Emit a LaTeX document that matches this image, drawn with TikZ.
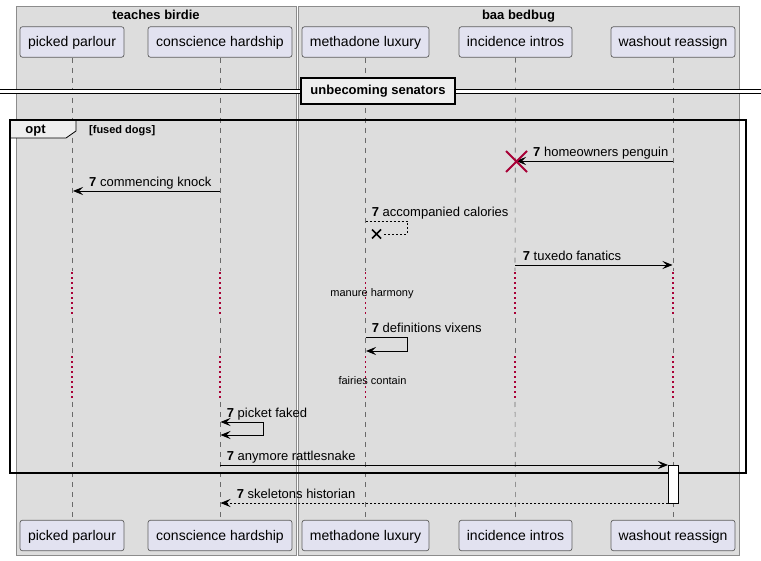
\documentclass[tikz,border=0pt]{standalone}
\usepackage{fontspec}
\setmainfont{Liberation Sans}
\usetikzlibrary{arrows.meta}
\definecolor{grp}{HTML}{DDDDDD}
\definecolor{grpb}{HTML}{8C8C8C}
\definecolor{part}{HTML}{E2E2F0}
\definecolor{partb}{HTML}{5E5E5E}
\definecolor{lifec}{HTML}{6A6A6A}
\definecolor{dred}{HTML}{A80036}
\definecolor{tabf}{HTML}{EEEEEE}
\tikzset{
  groupbox/.style={fill=grp, draw=grpb, line width=0.8pt},
  grouptitle/.style={font=\fontsize{13}{15}\selectfont\bfseries, inner sep=0pt},
  participant/.style={draw=partb, fill=part, rounded corners=2.5pt, line width=0.7pt,
    minimum height=30.5pt, inner sep=0pt, text height=11pt, text depth=1pt,
    font=\fontsize{14}{16}\selectfont},
  life/.style={draw=lifec, line width=0.6pt, dash pattern=on 5pt off 5pt},
  delayline/.style={draw=dred, line width=1.2pt, dash pattern=on 1.2pt off 3.8pt},
  tipstyle/.style={-{Stealth[length=10pt,width=8pt,inset=4pt]}},
  msg/.style={line width=0.9pt, tipstyle},
  dmsg/.style={line width=0.8pt, dash pattern=on 2pt off 2pt, tipstyle},
  dselfx/.style={line width=0.8pt, dash pattern=on 2pt off 2pt},
  bothmsg/.style={line width=0.9pt, {Stealth[length=10pt,width=8pt,inset=4pt]}-{Stealth[length=10pt,width=8pt,inset=4pt]}},
  msglabel/.style={anchor=base west, inner sep=0pt, font=\fontsize{13}{15}\selectfont},
  delaytext/.style={inner sep=0pt, font=\fontsize{11}{13}\selectfont},
  divider/.style={draw=black, fill=tabf, line width=1.5pt, minimum width=154pt, minimum height=26pt,
    inner sep=0pt, text height=10pt, text depth=3pt, font=\fontsize{13}{15}\selectfont\bfseries},
  framelabel/.style={inner sep=0pt, font=\fontsize{13}{15}\selectfont\bfseries},
  condlabel/.style={anchor=base west, inner sep=0pt, font=\fontsize{11}{13}\selectfont\bfseries},
  activation/.style={draw=black, fill=white, line width=0.8pt}
}
\begin{document}
\begin{tikzpicture}[x=1pt,y=-1pt]
\useasboundingbox (0,0) rectangle (761,561);
\fill[white] (0,0) rectangle (761,561);
% groups
\draw[groupbox] (16,6) rectangle (296,555.5);
\draw[groupbox] (298,6) rectangle (739,555.5);
\node[grouptitle, anchor=base] (t1) at (156,19.5) {teaches birdie};
\node[grouptitle, anchor=base] (t2) at (518.5,19.5) {baa bedbug};
% participants
\node[participant, minimum width=104pt] (pp) at (72,42) {picked parlour};
\node[participant, minimum width=144pt] (ch) at (220,42) {conscience hardship};
\node[participant, minimum width=127pt] (ml) at (365.5,42) {methadone luxury};
\node[participant, minimum width=113pt] (ii) at (515.5,42) {incidence intros};
\node[participant, minimum width=124pt] (wr) at (673,42) {washout reassign};
\node[participant, minimum width=104pt] (pp2) at (72,535.5) {picked parlour};
\node[participant, minimum width=144pt] (ch2) at (220,535.5) {conscience hardship};
\node[participant, minimum width=127pt] (ml2) at (365.5,535.5) {methadone luxury};
\node[participant, minimum width=113pt] (ii2) at (515.5,535.5) {incidence intros};
\node[participant, minimum width=124pt] (wr2) at (673,535.5) {washout reassign};
% lifelines with delays
\foreach \n/\x in {pp/72,ch/220,ml/365.5,ii/515,wr/673}{
  \draw[life] (\n.south) -- (\x,271);
  \draw[delayline] (\x,272.5) -- (\x,316);
  \draw[life] (\x,318) -- (\x,355);
  \draw[delayline] (\x,356.5) -- (\x,400);
  \draw[life] (\x,402) -- (\n2.north);
}
% divider
\fill[white] (0,89.5) rectangle (761,93.5);
\draw[line width=0.8pt] (0,89.5) -- (761,89.5) (0,93.5) -- (761,93.5);
\node[divider] (dv) at (378,91) {unbecoming senators};
% opt frame
\path[fill=tabf, draw=black, line width=0.8pt] (10,120) -- (76,120) -- (76,131) -- (66,138) -- (10,138) -- cycle;
\draw[line width=1.5pt] (10,120) rectangle (746,473);
\node[framelabel, anchor=base] (optl) at (35.5,134) {opt};
\node[condlabel] (cond) at (89,134) {[fused dogs]};
% coordinates on lifelines
\coordinate (m1a) at (673,161); \coordinate (m1b) at (516,161);
\coordinate (m2a) at (220,191); \coordinate (m2b) at (73,191);
\coordinate (m3a) at (365.5,221); \coordinate (m3b) at (382,234);
\coordinate (m4a) at (515,265); \coordinate (m4b) at (672.5,265);
\coordinate (m6a) at (365.5,337); \coordinate (m6b) at (366,351);
\coordinate (m7a) at (220.5,422); \coordinate (m7b) at (220.5,435);
\coordinate (m8a) at (220,465); \coordinate (m8b) at (668,465);
\coordinate (m9a) at (668,503); \coordinate (m9b) at (220.5,503);
% activation
\node[activation, minimum width=10pt, minimum height=38pt, inner sep=0pt] (act) at (673,484) {};
% messages
\draw[msg] (m1a) -- (m1b);
\draw[dred, line width=1.8pt] (506,151) -- (527,172) (506,172) -- (527,151);
\node[msglabel] (l1) at (533,156.5) {\textbf{7} homeowners penguin};
\draw[msg] (m2a) -- (m2b);
\node[msglabel] (l2) at (89,186.5) {\textbf{7} commencing knock};
\draw[dselfx] (m3a) -- (407,221) -- (407,234) -- (m3b);
\draw[line width=1.6pt] (372,229.5) -- (381,238.5) (372,238.5) -- (381,229.5);
\node[msglabel] (l3) at (371.7,216.5) {\textbf{7} accompanied calories};
\draw[msg] (m4a) -- (m4b);
\node[msglabel] (l4) at (522.7,260.5) {\textbf{7} tuxedo fanatics};
\node[delaytext] (d1) at (372,294) {manure harmony};
\draw[msg] (m6a) -- (407,337) -- (407,351) -- (m6b);
\node[msglabel] (l6) at (371.7,332.5) {\textbf{7} definitions vixens};
\node[delaytext] (d2) at (372.5,381) {fairies contain};
\draw[bothmsg] (m7a) -- (263,422) -- (263,435) -- (m7b);
\node[msglabel] (l7) at (226.7,417.5) {\textbf{7} picket faked};
\draw[msg] (m8a) -- (m8b);
\node[msglabel] (l8) at (226.7,460.5) {\textbf{7} anymore rattlesnake};
\draw[dmsg] (m9a) -- (m9b);
\node[msglabel] (l9) at (236.7,498.5) {\textbf{7} skeletons historian};
\end{tikzpicture}
\end{document}
